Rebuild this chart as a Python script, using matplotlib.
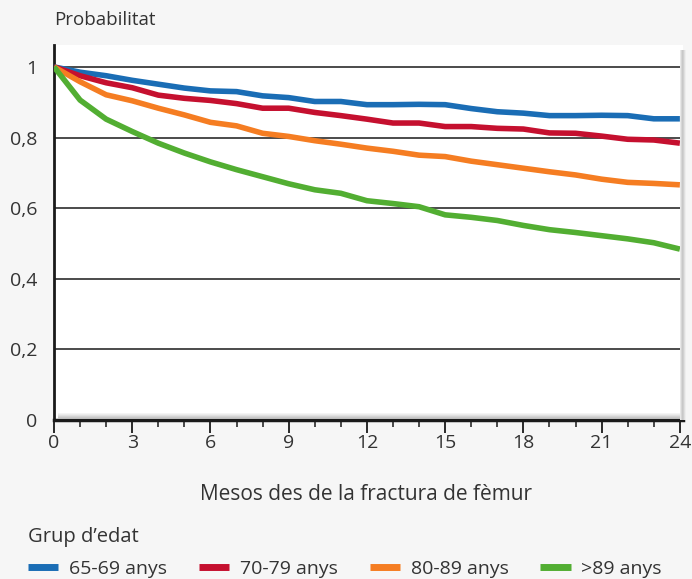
import numpy as np
import matplotlib
matplotlib.use("Agg")
import matplotlib.pyplot as plt
from matplotlib.ticker import MultipleLocator
from matplotlib.patches import Rectangle

plt.rcParams['font.family'] = ['Open Sans', 'DejaVu Sans']

months = list(range(25))
grp_65_69 = [1.0, 0.985, 0.975, 0.962, 0.951, 0.94, 0.932, 0.93, 0.918, 0.913, 0.902, 0.902,
             0.893, 0.893, 0.894, 0.893, 0.882, 0.873, 0.869, 0.862, 0.862, 0.863, 0.862, 0.853, 0.853]
grp_70_79 = [1.0, 0.975, 0.955, 0.941, 0.92, 0.911, 0.905, 0.896, 0.883, 0.883, 0.871, 0.862,
             0.852, 0.841, 0.841, 0.831, 0.831, 0.826, 0.824, 0.813, 0.812, 0.804, 0.795, 0.793, 0.784]
grp_80_89 = [1.0, 0.958, 0.921, 0.904, 0.883, 0.864, 0.843, 0.833, 0.812, 0.803, 0.791, 0.781,
             0.77, 0.761, 0.75, 0.746, 0.733, 0.723, 0.713, 0.703, 0.694, 0.682, 0.673, 0.67, 0.666]
grp_89_plus = [1.0, 0.906, 0.852, 0.817, 0.784, 0.756, 0.731, 0.709, 0.689, 0.669, 0.652, 0.642,
               0.621, 0.613, 0.604, 0.581, 0.574, 0.565, 0.551, 0.539, 0.531, 0.522, 0.513, 0.502, 0.484]

labels = ['65-69 anys', '70-79 anys', '80-89 anys', '>89 anys']
colors = ['#1a6db5', '#c5102f', '#f57d22', '#52ae32']
yticks = [0, 0.2, 0.4, 0.6, 0.8, 1.0]
ytick_labels = ['0', '0,2', '0,4', '0,6', '0,8', '1']
xticks = list(range(0, 25, 3))

bg = '#f6f6f6'
txt = '#333333'
W, H = 692, 579

fig = plt.figure(figsize=(W / 100, H / 100), dpi=100, facecolor=bg)
ax = fig.add_axes([54 / W, 1 - 420 / H, (683 - 54) / W, (420 - 45) / H])
ax.set_facecolor('white')

# soft shadow on the right and bottom edges of the plot panel
shades = ['#e8e8e8', '#d6d6d6', '#c8c8c8', '#d0d0d0', '#e0e0e0', '#eeeeee']
for i, c in enumerate(shades):
    fig.patches.append(Rectangle(((680 + i) / W, 1 - 420 / H), 1 / W, (420 - 50) / H,
                                 transform=fig.transFigure, color=c, zorder=5, lw=0))
for i, c in enumerate(['#f4f4f4', '#ebebeb', '#e0e0e0', '#d3d3d3', '#c8c8c8', '#bdbdbd']):
    fig.patches.append(Rectangle((58 / W, (H - 420 + 6 - i) / H), (684 - 58) / W, 1 / H,
                                 transform=fig.transFigure, color=c, zorder=1, lw=0))

for y in yticks[1:]:
    ax.axhline(y, color='#1a1a1a', lw=1.1, zorder=1)

series = [grp_65_69, grp_70_79, grp_80_89, grp_89_plus]
for vals, lab, col in zip(series, labels, colors):
    ax.plot(months, vals, color=col, lw=4, label=lab, zorder=3, solid_capstyle='butt')

ax.set_xlim(0, 24.12)
ax.set_ylim(0, 1.062)
ax.set_yticks(yticks)
ax.set_yticklabels(ytick_labels)
ax.set_xticks(xticks)
ax.xaxis.set_minor_locator(MultipleLocator(1))

for s in ['top', 'right']:
    ax.spines[s].set_visible(False)
ax.spines['left'].set_linewidth(2)
ax.spines['bottom'].set_linewidth(2.5)
ax.spines['left'].set_color('#1a1a1a')
ax.spines['bottom'].set_color('#1a1a1a')
ax.spines['bottom'].set_zorder(6)

ax.tick_params(axis='y', length=0, pad=12, labelsize=14, labelcolor=txt)
ax.tick_params(axis='x', which='major', length=9, width=1.3, color='#1a1a1a',
               direction='out', labelsize=14, labelcolor=txt, pad=1)
ax.tick_params(axis='x', which='minor', length=5, width=1.1, color='#1a1a1a', direction='out')

fig.text(54 / W, 1 - 20 / H, 'Probabilitat', fontsize=13.5, color=txt, va='center', ha='left')
fig.text(366 / W, 1 - 494 / H, 'Mesos des de la fractura de fèmur', fontsize=15,
         color=txt, va='center', ha='center')
fig.text(28 / W, 1 - 537 / H, 'Grup d’edat', fontsize=14.5, color=txt, va='center', ha='left')

leg = fig.legend(loc='center left', bbox_to_anchor=(28 / W, 1 - 569 / H), ncol=4, frameon=False,
                 fontsize=14, handlelength=1.55, handletextpad=0.55, columnspacing=1.65,
                 borderpad=0, borderaxespad=0, labelcolor=txt)
for h in leg.get_lines():
    h.set_linewidth(5)

fig.savefig('out.png', dpi=100, facecolor=bg)
